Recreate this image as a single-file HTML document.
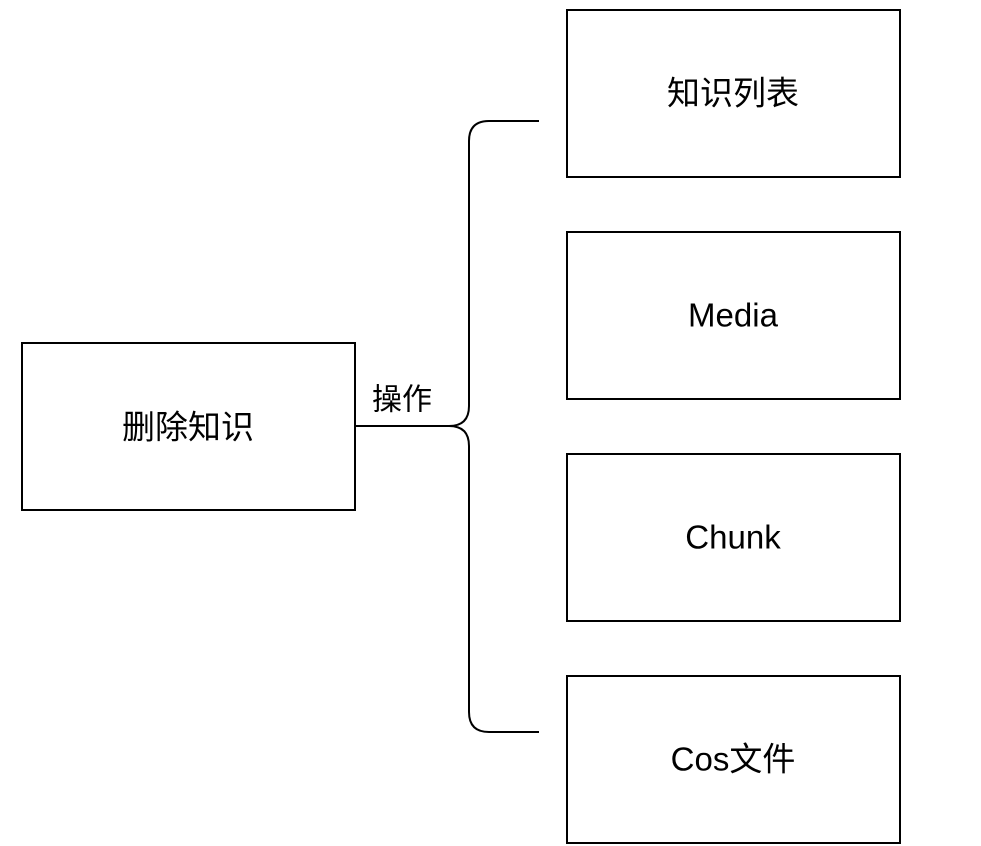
<!DOCTYPE html>
<html><head><meta charset="utf-8"><style>
html,body{margin:0;padding:0;background:#fff;width:981px;height:846px;overflow:hidden}
text{font-family:"Liberation Sans","Noto Sans CJK SC",sans-serif;fill:#000}
</style></head><body>
<svg width="981" height="846" xmlns="http://www.w3.org/2000/svg">
<g fill="none" stroke="#000" stroke-width="2">
<rect x="22" y="343" width="333" height="167"/>
<rect x="567" y="10" width="333" height="167"/>
<rect x="567" y="232" width="333" height="167"/>
<rect x="567" y="454" width="333" height="167"/>
<rect x="567" y="676" width="333" height="167"/>
<path d="M355 426 H449 Q469 426 469 406 V141 Q469 121 489 121 H539"/>
<path d="M449 426 Q469 426 469 446 V712 Q469 732 489 732 H539"/>
</g>
<g font-size="33" text-anchor="middle" dominant-baseline="central">
<text x="188" y="427">删除知识</text>
<text x="733" y="93">知识列表</text>
<text x="733" y="315">Media</text>
<text x="733" y="537">Chunk</text>
<text x="733" y="759">Cos文件</text>
</g>
<text x="402" y="400" font-size="30" text-anchor="middle" dominant-baseline="central">操作</text>
</svg>
</body></html>
